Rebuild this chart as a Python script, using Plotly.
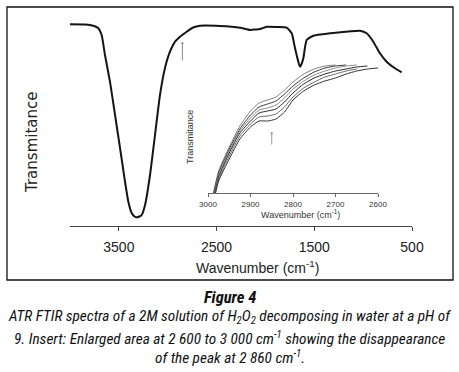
import plotly.graph_objects as go

# ---------------- data ----------------
main_wavenumber = [4000, 3850, 3795, 3740, 3710, 3676, 3642, 3591, 3539, 3488, 3437, 3403,
                   3369, 3340, 3317, 3290, 3266, 3232, 3181, 3130, 3079, 3028, 2977, 2925,
                   2874, 2806, 2740, 2669, 2465, 2260, 2158, 2100, 2055, 1987, 1880, 1782,
                   1731, 1697, 1660, 1646, 1630, 1612, 1578, 1510, 1339, 1150, 1032, 964,
                   896, 828, 760, 675, 606]
main_transmittance = [201.7, 201.5, 201.0, 199.5, 197.7, 191.0, 171.0, 144.3, 111.0, 78.0,
                      44.3, 24.3, 13.0, 9.5, 8.7, 9.5, 11.0, 21.0, 51.0, 91.0, 131.0, 158.0,
                      174.3, 184.3, 189.3, 194.3, 198.5, 200.3, 200.0, 198.3, 196.0, 196.5,
                      197.0, 199.3, 199.0, 198.3, 192.7, 177.7, 163.0, 159.3, 162.0, 167.7,
                      186.0, 190.3, 192.7, 194.5, 195.3, 192.7, 184.3, 172.7, 164.3, 157.7,
                      153.7]

insert_wavenumber = [2995, 2975, 2950, 2925, 2900, 2880, 2860, 2840, 2820, 2800, 2775,
                     2750, 2725, 2700, 2675, 2650, 2625, 2600]
insert_s1 = [-15, 22, 46, 67, 82, 90, 93, 96, 103, 111, 119, 124, 127, 128, None, None, None, None]
insert_s2 = [-17, 20, 44, 64, 78, 86, 89, 92, 99, 107, 115, 121, 125, 127, 128, None, None, None]
insert_s3 = [-19, 18, 42, 62, 75, 83, 85, 88, 95, 104, 112, 118, 122, 125, 127, 128, None, None]
insert_s4 = [-21, 16, 40, 60, 72, 80, 82, 84, 91, 100, 109, 115, 119, 122, 124, 126, 127, None]
insert_s5 = [-23, 14, 37, 57, 69, 76, 77, 79, 86, 96, 105, 111, 116, 119, 122, 124, None, None]
insert_s6 = [-25, 12, 34, 54, 66, 72, 72, 74, 81, 93, 102, 108, 112, 115, 119, 122, 124, 125]
insert_series = [insert_s1, insert_s2, insert_s3, insert_s4, insert_s5, insert_s6]
insert_colors = ["#808080", "#3a3a3a", "#8c8c8c", "#2a2a2a", "#6a6a6a", "#333333"]

main_ticks = [3500, 2500, 1500, 500]
insert_ticks = [3000, 2900, 2800, 2700, 2600]

# ---------------- figure ----------------
fig = go.Figure()

fig.add_trace(go.Scatter(x=main_wavenumber, y=main_transmittance, mode="lines",
                         line=dict(color="#151515", width=2, shape="spline", smoothing=0.5),
                         xaxis="x", yaxis="y", hoverinfo="skip"))

for s, c in zip(insert_series, insert_colors):
    fig.add_trace(go.Scatter(x=insert_wavenumber, y=s, mode="lines",
                             line=dict(color=c, width=1, shape="spline", smoothing=0.5),
                             xaxis="x2", yaxis="y2", hoverinfo="skip", connectgaps=False))

W, H = 459, 372

def fx(xp):
    return xp / W

def fy(yp):
    return (H - yp) / H

font_main = "Liberation Sans, Arial, sans-serif"

fig.update_layout(
    width=W, height=H,
    margin=dict(l=0, r=0, t=0, b=0, pad=0),
    paper_bgcolor="white", plot_bgcolor="rgba(0,0,0,0)",
    showlegend=False,
    xaxis=dict(domain=[fx(70), fx(412)], anchor="y", range=[4000, 500],
               showgrid=False, zeroline=False, automargin=False,
               showline=True, linecolor="#444", linewidth=1,
               ticks="outside", ticklen=4, tickcolor="#444",
               tickvals=main_ticks, ticktext=[str(t) for t in main_ticks],
               tickfont=dict(family=font_main, size=14, color="#222"),
               ticklabelstandoff=4),
    yaxis=dict(domain=[fy(226), fy(20)], anchor="x", range=[0, 206],
               visible=False, automargin=False),
    xaxis2=dict(domain=[fx(208), fx(378)], anchor="y2", range=[3000, 2600],
                showgrid=False, zeroline=False, showline=True, linecolor="#666",
                linewidth=1, ticks="outside", ticklen=3, tickcolor="#666",
                tickvals=insert_ticks, ticktext=[str(t) for t in insert_ticks],
                tickfont=dict(family=font_main, size=8, color="#333"),
                ticklabelstandoff=0, automargin=False),
    yaxis2=dict(domain=[fy(193), fy(60)], anchor="x2", range=[0, 133],
                visible=False, automargin=False),
)

ann = []
# axis titles
ann.append(dict(text="Wavenumber (cm<sup>-1</sup>)", x=fx(257), y=fy(267), xref="paper", yref="paper",
                showarrow=False, font=dict(family=font_main, size=14, color="#222"),
                xanchor="center", yanchor="middle"))
ann.append(dict(text="Transmitance", x=fx(32), y=fy(143), xref="paper", yref="paper",
                showarrow=False, textangle=-90,
                font=dict(family="DejaVu Sans, sans-serif", size=15, color="#222"),
                xanchor="center", yanchor="middle"))
ann.append(dict(text="Wavenumber (cm<sup>-1</sup>)", x=fx(300), y=fy(214), xref="paper", yref="paper",
                showarrow=False, font=dict(family=font_main, size=9, color="#333"),
                xanchor="center", yanchor="middle"))
ann.append(dict(text="Transmitance", x=fx(190), y=fy(137), xref="paper", yref="paper",
                showarrow=False, textangle=-90,
                font=dict(family=font_main, size=9, color="#333"),
                xanchor="center", yanchor="middle"))
# arrows
ann.append(dict(x=2850, y=184, xref="x", yref="y", text="", showarrow=True,
                ax=0, ay=20, arrowhead=1, arrowsize=0.6, arrowwidth=1, arrowcolor="#888"))
ann.append(dict(x=2850, y=61, xref="x2", yref="y2", text="", showarrow=True,
                ax=0, ay=14, arrowhead=1, arrowsize=0.6, arrowwidth=1, arrowcolor="#999"))
# caption
cap_font = "Liberation Sans Narrow, Roboto Condensed, Roboto, sans-serif"
ann.append(dict(text="<b><i>Figure 4</i></b>", x=fx(230), y=fy(297), xref="paper", yref="paper",
                xanchor="center", yanchor="middle", showarrow=False,
                font=dict(family=cap_font, size=16.5, color="#111")))
lines = [
    "<i>ATR FTIR spectra of a 2M solution of H<sub>2</sub>O<sub>2</sub> decomposing in water at a pH of</i>",
    "<i>9. Insert: Enlarged area at 2 600 to 3 000 cm<sup>-1</sup> showing the disappearance</i>",
    "<i>of the peak at 2 860 cm<sup>-1</sup>.</i>",
]
for yy, t in zip([317, 338, 357], lines):
    ann.append(dict(text=t, x=fx(230), y=fy(yy), xref="paper", yref="paper",
                    xanchor="center", yanchor="middle", showarrow=False,
                    font=dict(family=cap_font, size=15.3, color="#111")))
fig.update_layout(annotations=ann)

# outer frame
fig.add_shape(type="rect", xref="paper", yref="paper",
              x0=fx(7), x1=fx(453), y0=fy(280), y1=fy(7),
              line=dict(color="#111", width=1.3), fillcolor="rgba(0,0,0,0)", layer="above")

fig.write_html("out.html", config={"displayModeBar": False},
               post_script="document.body.style.margin='0';")
